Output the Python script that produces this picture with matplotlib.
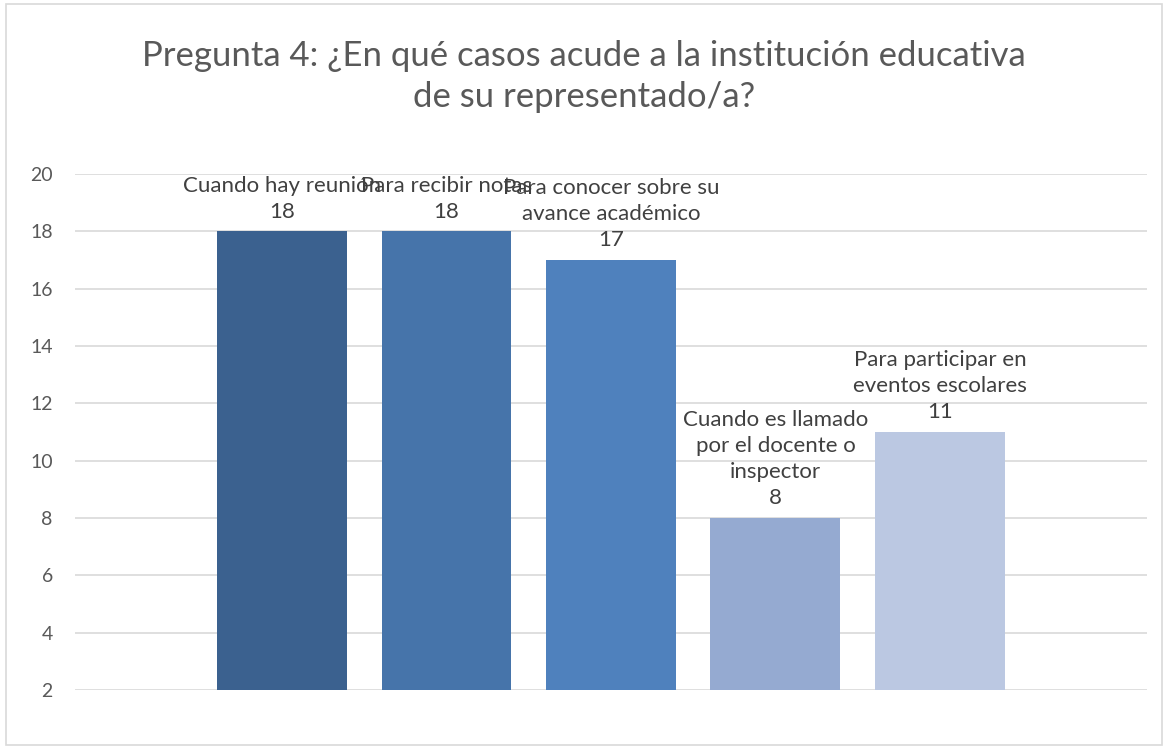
import matplotlib.pyplot as plt
from matplotlib.patches import Rectangle
import numpy as np

# Datos del gráfico (una sola categoría, cinco series)
series = ["Cuando hay reunión", "Para recibir notas",
          "Para conocer sobre su\navance académico",
          "Cuando es llamado\npor el docente o\ninspector",
          "Para participar en\neventos escolares"]
valores = [18, 18, 17, 8, 11]
colores = ["#3B618F", "#4674AA", "#4F81BD", "#95AAD1", "#BBC8E2"]

titulo = "Pregunta 4: ¿En qué casos acude a la institución educativa\nde su representado/a?"

plt.rcParams['font.family'] = ['Lato', 'DejaVu Sans']

fig = plt.figure(figsize=(11.68, 7.49), dpi=100)
ax = fig.add_axes([0.0642, 0.0788, 0.9178, 0.6889])

x = np.arange(len(valores))
base = 2
barras = ax.bar(x, [v - base for v in valores], bottom=base, width=0.79,
                color=colores, zorder=2)

for xi, v, nombre in zip(x, valores, series):
    ax.annotate(f"{nombre}\n{v}", (xi, v), xytext=(0, 7), textcoords="offset points",
                ha="center", va="bottom", fontsize=16, color="#404040",
                linespacing=1.38, zorder=3)

ax.set_xlim(-1.2585, 5.2585)
ax.set_ylim(2, 20)
ax.set_yticks(range(2, 21, 2))
ax.yaxis.grid(True, color="#D9D9D9", linewidth=1.2, zorder=0)
ax.set_xticks([])
for s in ax.spines.values():
    s.set_visible(False)
ax.tick_params(axis="y", length=0, pad=16, labelsize=14, labelcolor="#595959")

fig.text(0.5, 0.898, titulo, ha="center", va="center", fontsize=25,
         color="#595959", linespacing=1.32)

fig.patches.append(Rectangle((0.005, 0.005), 0.99, 0.99, transform=fig.transFigure,
                             fill=False, edgecolor="#D9D9D9", linewidth=1.2))

fig.savefig("out.png", dpi=100)
